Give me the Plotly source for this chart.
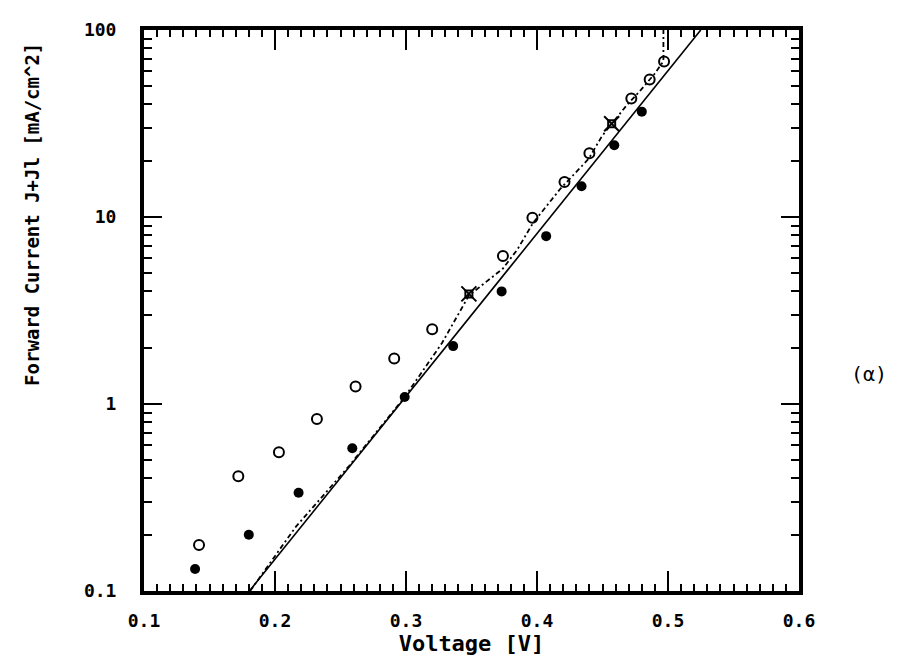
import plotly.graph_objects as go

# ---- data ----
v_filled = [0.139, 0.180, 0.218, 0.259, 0.299, 0.336, 0.373, 0.407, 0.434, 0.459, 0.480]
j_filled = [0.131, 0.200, 0.335, 0.58, 1.09, 2.04, 4.0, 7.9, 14.6, 24.2, 36.6]

v_open = [0.142, 0.172, 0.203, 0.232, 0.2615, 0.291, 0.320, 0.374, 0.3965, 0.421, 0.440, 0.472, 0.486, 0.497]
j_open = [0.176, 0.411, 0.552, 0.831, 1.24, 1.75, 2.51, 6.18, 9.9, 15.4, 21.9, 43.0, 54.3, 67.9]

v_star = [0.348, 0.457]
j_star = [3.88, 31.5]

v_fit = [0.1805, 0.525]
j_fit = [0.1, 100]

v_curve = [0.181, 0.216, 0.2565, 0.299, 0.3275, 0.348, 0.374, 0.385, 0.397, 0.418,
           0.4395, 0.4495, 0.457, 0.4685, 0.4795, 0.4895, 0.4965, 0.4965]
j_curve = [0.1, 0.221, 0.466, 1.09, 2.12, 3.8, 5.3, 6.7, 9.3, 14.2,
           20.5, 27, 31.5, 39.6, 48, 58, 68, 100]

x_tickvals = [0.1, 0.2, 0.3, 0.4, 0.5, 0.6]
x_ticktext = ["0.1", "0.2", "0.3", "0.4", "0.5", "0.6"]
y_tickvals = [0.1, 1, 10, 100]
y_ticktext = ["0.1", "1", "10", "100"]

x_title = "Voltage [V]"
y_title = "Forward Current J+Jl [mA/cm^2]"
panel_label = "(α)"

FONT = "DejaVu Sans Mono"

fig = go.Figure()
fig.add_trace(go.Scatter(x=v_fit, y=j_fit, mode="lines",
                         line=dict(color="black", width=1.6), showlegend=False))
fig.add_trace(go.Scatter(x=v_curve, y=j_curve, mode="lines",
                         line=dict(color="black", width=1.8, dash="5px,3px,2px,3px"),
                         showlegend=False))
fig.add_trace(go.Scatter(x=v_filled, y=j_filled, mode="markers",
                         marker=dict(symbol="circle", size=10, color="black"),
                         showlegend=False))
fig.add_trace(go.Scatter(x=v_open, y=j_open, mode="markers",
                         marker=dict(symbol="circle-open", size=10, color="black",
                                     line=dict(width=2)),
                         showlegend=False))
# star-like marker: small square with diagonal spikes
fig.add_trace(go.Scatter(x=v_star, y=j_star, mode="markers",
                         marker=dict(symbol="square-open", size=7, color="black",
                                     line=dict(width=2)),
                         showlegend=False))
fig.add_trace(go.Scatter(x=v_star, y=j_star, mode="markers",
                         marker=dict(symbol="x-thin-open", size=15, color="black",
                                     line=dict(width=2)),
                         showlegend=False))

minor_y = [m * 10 ** e for e in (-1, 0, 1) for m in range(2, 10)]

fig.update_xaxes(range=[0.1, 0.6], tickvals=x_tickvals, ticktext=x_ticktext,
                 ticks="inside", ticklen=20, tickwidth=2, tickcolor="black",
                 showline=True, linewidth=4, linecolor="black", mirror="allticks",
                 showgrid=False, zeroline=False, ticklabelstandoff=10,
                 minor=dict(dtick=0.01, ticks="inside", ticklen=7, tickwidth=2,
                            tickcolor="black", showgrid=False),
                 tickfont=dict(family=FONT, size=18, color="black", weight="bold"),
                 title=dict(text=x_title, standoff=6,
                            font=dict(family=FONT, size=22, color="black", weight="bold")))
fig.update_yaxes(type="log", range=[-1, 2], tickvals=y_tickvals, ticktext=y_ticktext,
                 ticks="inside", ticklen=18, tickwidth=2, tickcolor="black",
                 showline=True, linewidth=4, linecolor="black", mirror="allticks",
                 showgrid=False, zeroline=False, ticklabelstandoff=20,
                 minor=dict(tickvals=minor_y, ticks="inside", ticklen=8, tickwidth=2,
                            tickcolor="black", showgrid=False),
                 tickfont=dict(family=FONT, size=18, color="black", weight="bold"))

fig.add_annotation(text=y_title, textangle=-90, xref="paper", yref="paper",
                   x=(24 - 136) / 656, y=(583 - 200) / 571, showarrow=False,
                   xanchor="center", yanchor="middle",
                   font=dict(family=FONT, size=19, color="black", weight="bold"))
fig.add_annotation(text=panel_label, xref="paper", yref="paper",
                   x=(862 - 136) / 656, y=(583 - 362) / 571, showarrow=False,
                   xanchor="center", yanchor="middle",
                   font=dict(family=FONT, size=20, color="black"))

fig.update_layout(width=912, height=656, margin=dict(l=136, r=121, t=11, b=73),
                  plot_bgcolor="white", paper_bgcolor="white")

fig.write_html("out.html")
